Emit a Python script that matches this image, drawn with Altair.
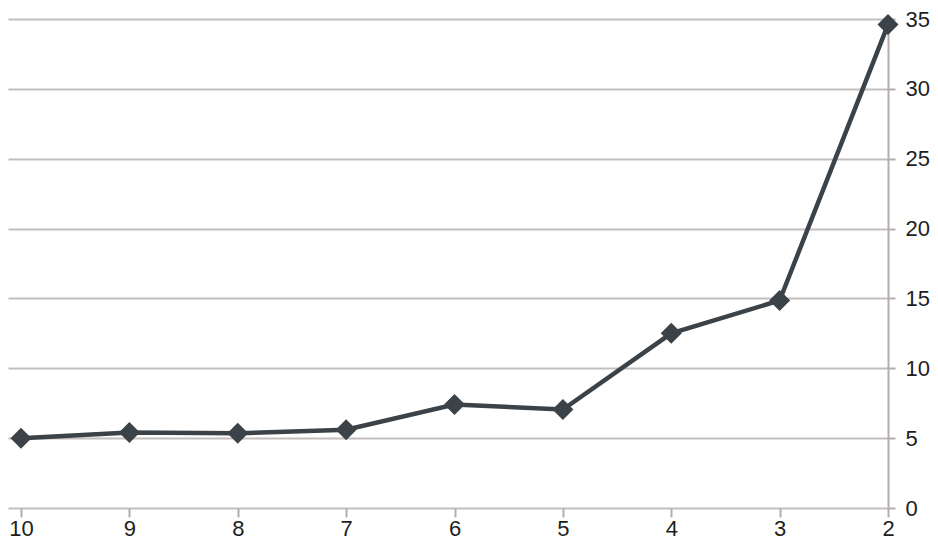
import altair as alt
import pandas as pd

categories = [10, 9, 8, 7, 6, 5, 4, 3, 2]
values = [5.0, 5.4, 5.35, 5.6, 7.4, 7.05, 12.5, 14.85, 34.6]

df = pd.DataFrame({"x": categories, "y": values})

grid_color = "#c4bdbd"
axis_color = "#b3adad"
line_color = "#3b4349"
font = "Liberation Sans"

x = alt.X(
    "x:Q",
    scale=alt.Scale(domain=[2, 10.12], reverse=True, nice=False, zero=False),
    axis=alt.Axis(
        values=categories, format="d", title=None, grid=False,
        domain=False, ticks=True, tickSize=9, tickColor=axis_color, tickWidth=2,
        labelFontSize=22, labelFont=font, labelColor="#1e1e1e",
        labelPadding=1, labelFlush=False,
    ),
)
y = alt.Y(
    "y:Q",
    scale=alt.Scale(domain=[0, 35], nice=False),
    axis=alt.Axis(
        orient="right", values=[0, 5, 10, 15, 20, 25, 30, 35], title=None,
        grid=True, gridColor=grid_color, gridWidth=2,
        domain=True, domainColor=axis_color, domainWidth=2,
        ticks=True, tickSize=7, tickColor=axis_color, tickWidth=2,
        labelFontSize=22, labelFont=font, labelColor="#1e1e1e",
        labelPadding=10, labelAlign="left", labelBaseline="middle",
    ),
)

line = alt.Chart(df).mark_line(color=line_color, strokeWidth=4.5, clip=False).encode(x=x, y=y)
pts = alt.Chart(df).mark_point(
    shape="diamond", filled=True, size=440, color=line_color, opacity=1, clip=False
).encode(x=x, y=y)

chart = (
    alt.layer(line, pts)
    .properties(
        width=880, height=489,
        background="white",
        padding={"left": 0, "top": 0, "right": 0, "bottom": 0},
    )
    .configure_view(strokeWidth=0, stroke=None)
)

chart.save("out.html", embed_options={"renderer": "svg", "actions": False})
